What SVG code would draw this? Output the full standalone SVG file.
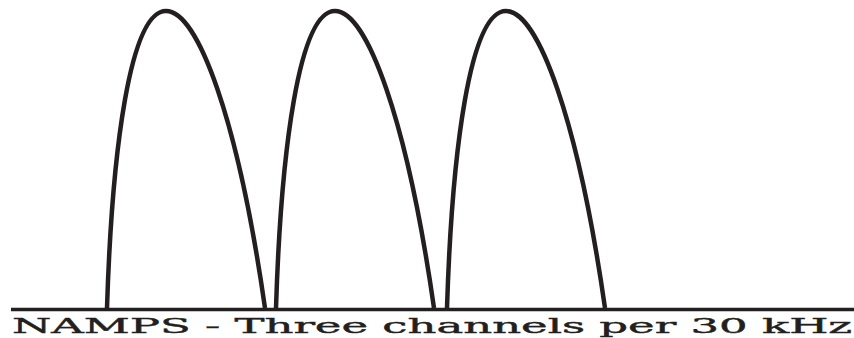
<svg xmlns="http://www.w3.org/2000/svg" width="854" height="338" viewBox="0 0 854 338">
<style>
.lobe{fill:none;stroke:#231f20;stroke-width:4.5;stroke-linecap:butt}
.axis{stroke:#231f20;stroke-width:3.5}
.lbl{font-family:"DejaVu Serif","Liberation Serif",serif;font-size:20px;fill:#231f20;stroke:#231f20;stroke-width:0.4}
</style>
<rect width="854" height="338" fill="#fff"/>
<g id="lobes">
<g id="lobe1"><path class="lobe" d="M107,308 C112,150 130,11 166,11 C198,11 238,120 265,308"/></g>
<g id="lobe2"><path class="lobe" d="M276,308 C281,150 299,11 335,11 C367,11 407,120 434,308"/></g>
<g id="lobe3"><path class="lobe" d="M447,308 C452,150 470,11 506,11 C538,11 578,120 605,308"/></g>
</g>
<g id="axis"><line class="axis" x1="11" y1="309.5" x2="854" y2="309.5"/></g>
<text class="lbl" x="12" y="333" textLength="840" lengthAdjust="spacingAndGlyphs">NAMPS - Three channels per 30 kHz</text>
</svg>
